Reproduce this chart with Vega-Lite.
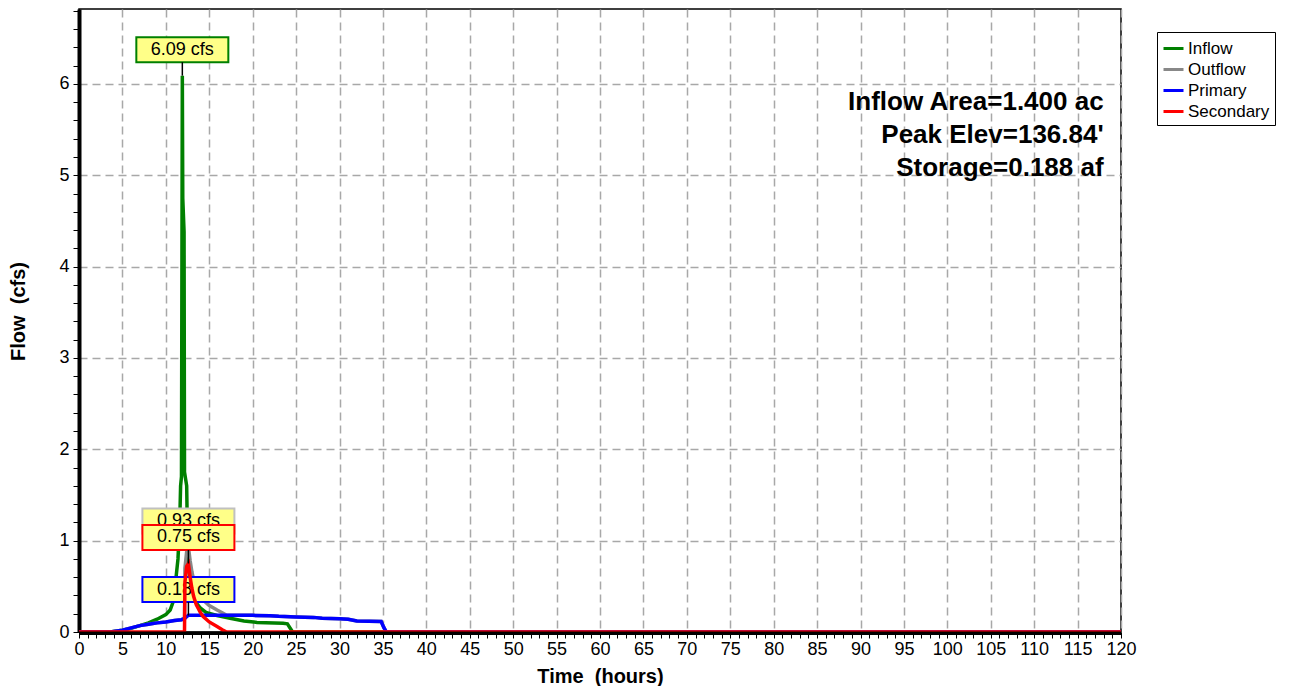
{
  "$schema": "https://vega.github.io/schema/vega-lite/v6.json",
  "width": 1042,
  "height": 623,
  "autosize": {"type": "none"},
  "padding": {"left": 79, "top": 9, "right": 170, "bottom": 54},
  "background": "white",
  "config": {
    "font": "Liberation Sans",
    "view": {"stroke": "black", "strokeWidth": 1.5},
    "legend": {
      "orient": "none", "legendX": 1078, "legendY": 23, "title": null,
      "strokeColor": "black", "fillColor": "white", "padding": 5,
      "symbolType": "stroke", "symbolStrokeWidth": 3, "symbolSize": 400,
      "labelFontSize": 17, "labelFont": "Liberation Sans", "labelColor": "black",
      "rowPadding": 1, "labelOffset": 3
    }
  },
  "datasets": {
    "flow": [
      {"series": "Inflow", "t": 0, "q": 0},
      {"series": "Inflow", "t": 3.6, "q": 0},
      {"series": "Inflow", "t": 5, "q": 0.02},
      {"series": "Inflow", "t": 6, "q": 0.04},
      {"series": "Inflow", "t": 7, "q": 0.07},
      {"series": "Inflow", "t": 8, "q": 0.1},
      {"series": "Inflow", "t": 9, "q": 0.14},
      {"series": "Inflow", "t": 10, "q": 0.19},
      {"series": "Inflow", "t": 10.5, "q": 0.24},
      {"series": "Inflow", "t": 10.8, "q": 0.32},
      {"series": "Inflow", "t": 11.0, "q": 0.45},
      {"series": "Inflow", "t": 11.2, "q": 0.62},
      {"series": "Inflow", "t": 11.4, "q": 0.8},
      {"series": "Inflow", "t": 11.6, "q": 1.2},
      {"series": "Inflow", "t": 11.7, "q": 1.6},
      {"series": "Inflow", "t": 11.8, "q": 1.7},
      {"series": "Inflow", "t": 11.9, "q": 6.09},
      {"series": "Inflow", "t": 11.95, "q": 4.75},
      {"series": "Inflow", "t": 12.1, "q": 4.38},
      {"series": "Inflow", "t": 12.15, "q": 1.75},
      {"series": "Inflow", "t": 12.4, "q": 1.6},
      {"series": "Inflow", "t": 12.5, "q": 1.0},
      {"series": "Inflow", "t": 12.6, "q": 0.71},
      {"series": "Inflow", "t": 12.8, "q": 0.55},
      {"series": "Inflow", "t": 13.0, "q": 0.45},
      {"series": "Inflow", "t": 13.5, "q": 0.32},
      {"series": "Inflow", "t": 14.0, "q": 0.26},
      {"series": "Inflow", "t": 14.7, "q": 0.21},
      {"series": "Inflow", "t": 15.9, "q": 0.18},
      {"series": "Inflow", "t": 17.4, "q": 0.15},
      {"series": "Inflow", "t": 19, "q": 0.12},
      {"series": "Inflow", "t": 20.5, "q": 0.105},
      {"series": "Inflow", "t": 23.5, "q": 0.095},
      {"series": "Inflow", "t": 24.0, "q": 0.09},
      {"series": "Inflow", "t": 24.6, "q": 0},
      {"series": "Inflow", "t": 120, "q": 0},
      {"series": "Outflow", "t": 0, "q": 0},
      {"series": "Outflow", "t": 3.6, "q": 0},
      {"series": "Outflow", "t": 5, "q": 0.02},
      {"series": "Outflow", "t": 6, "q": 0.045},
      {"series": "Outflow", "t": 7, "q": 0.07},
      {"series": "Outflow", "t": 8, "q": 0.085},
      {"series": "Outflow", "t": 9, "q": 0.1},
      {"series": "Outflow", "t": 10, "q": 0.11},
      {"series": "Outflow", "t": 11, "q": 0.125},
      {"series": "Outflow", "t": 11.8, "q": 0.135},
      {"series": "Outflow", "t": 12.15, "q": 0.148},
      {"series": "Outflow", "t": 12.2, "q": 0.7},
      {"series": "Outflow", "t": 12.4, "q": 0.88},
      {"series": "Outflow", "t": 12.6, "q": 0.93},
      {"series": "Outflow", "t": 12.8, "q": 0.78},
      {"series": "Outflow", "t": 13.0, "q": 0.66},
      {"series": "Outflow", "t": 13.2, "q": 0.57},
      {"series": "Outflow", "t": 13.5, "q": 0.48},
      {"series": "Outflow", "t": 14.0, "q": 0.39},
      {"series": "Outflow", "t": 14.3, "q": 0.35},
      {"series": "Outflow", "t": 15.0, "q": 0.29},
      {"series": "Outflow", "t": 15.9, "q": 0.24},
      {"series": "Outflow", "t": 16.5, "q": 0.21},
      {"series": "Outflow", "t": 17, "q": 0.184},
      {"series": "Outflow", "t": 20, "q": 0.182},
      {"series": "Outflow", "t": 22, "q": 0.178},
      {"series": "Outflow", "t": 23, "q": 0.172},
      {"series": "Outflow", "t": 25, "q": 0.165},
      {"series": "Outflow", "t": 27, "q": 0.16},
      {"series": "Outflow", "t": 28, "q": 0.15},
      {"series": "Outflow", "t": 30, "q": 0.145},
      {"series": "Outflow", "t": 31, "q": 0.14},
      {"series": "Outflow", "t": 32, "q": 0.12},
      {"series": "Outflow", "t": 34.8, "q": 0.115},
      {"series": "Outflow", "t": 35.1, "q": 0.05},
      {"series": "Outflow", "t": 35.4, "q": 0},
      {"series": "Outflow", "t": 120, "q": 0},
      {"series": "Primary", "t": 0, "q": 0},
      {"series": "Primary", "t": 3.6, "q": 0},
      {"series": "Primary", "t": 5, "q": 0.02},
      {"series": "Primary", "t": 6, "q": 0.045},
      {"series": "Primary", "t": 7, "q": 0.07},
      {"series": "Primary", "t": 8, "q": 0.085},
      {"series": "Primary", "t": 9, "q": 0.1},
      {"series": "Primary", "t": 10, "q": 0.11},
      {"series": "Primary", "t": 11, "q": 0.125},
      {"series": "Primary", "t": 11.8, "q": 0.135},
      {"series": "Primary", "t": 12.2, "q": 0.15},
      {"series": "Primary", "t": 12.5, "q": 0.175},
      {"series": "Primary", "t": 12.6, "q": 0.184},
      {"series": "Primary", "t": 17, "q": 0.184},
      {"series": "Primary", "t": 20, "q": 0.182},
      {"series": "Primary", "t": 22, "q": 0.178},
      {"series": "Primary", "t": 23, "q": 0.172},
      {"series": "Primary", "t": 25, "q": 0.165},
      {"series": "Primary", "t": 27, "q": 0.16},
      {"series": "Primary", "t": 28, "q": 0.15},
      {"series": "Primary", "t": 30, "q": 0.145},
      {"series": "Primary", "t": 31, "q": 0.14},
      {"series": "Primary", "t": 32, "q": 0.12},
      {"series": "Primary", "t": 34.8, "q": 0.115},
      {"series": "Primary", "t": 35.1, "q": 0.05},
      {"series": "Primary", "t": 35.4, "q": 0},
      {"series": "Primary", "t": 120, "q": 0},
      {"series": "Secondary", "t": 0, "q": 0},
      {"series": "Secondary", "t": 12.15, "q": 0},
      {"series": "Secondary", "t": 12.2, "q": 0.55},
      {"series": "Secondary", "t": 12.4, "q": 0.72},
      {"series": "Secondary", "t": 12.6, "q": 0.75},
      {"series": "Secondary", "t": 12.8, "q": 0.6},
      {"series": "Secondary", "t": 13.0, "q": 0.48},
      {"series": "Secondary", "t": 13.2, "q": 0.39},
      {"series": "Secondary", "t": 13.5, "q": 0.3},
      {"series": "Secondary", "t": 14.0, "q": 0.21},
      {"series": "Secondary", "t": 14.3, "q": 0.17},
      {"series": "Secondary", "t": 15.0, "q": 0.11},
      {"series": "Secondary", "t": 15.9, "q": 0.06},
      {"series": "Secondary", "t": 16.5, "q": 0.025},
      {"series": "Secondary", "t": 17.0, "q": 0},
      {"series": "Secondary", "t": 120, "q": 0}
    ],
    "peaks": [
      {"series": "Inflow", "t": 11.9, "q": 6.09, "label": "6.09 cfs"},
      {"series": "Outflow", "t": 12.6, "q": 0.93, "label": "0.93 cfs"},
      {"series": "Primary", "t": 12.6, "q": 0.18, "label": "0.18 cfs"},
      {"series": "Secondary", "t": 12.6, "q": 0.75, "label": "0.75 cfs"}
    ]
  },
  "layer": [
    {
      "encoding": {
        "x": {
          "field": "t", "type": "quantitative",
          "scale": {"domain": [0, 120], "nice": false, "zero": false},
          "axis": {
            "title": "Time\u00a0 (hours)",
            "values": [0,1,2,3,4,5,6,7,8,9,10,11,12,13,14,15,16,17,18,19,20,21,22,23,24,25,26,27,28,29,30,31,32,33,34,35,36,37,38,39,40,41,42,43,44,45,46,47,48,49,50,51,52,53,54,55,56,57,58,59,60,61,62,63,64,65,66,67,68,69,70,71,72,73,74,75,76,77,78,79,80,81,82,83,84,85,86,87,88,89,90,91,92,93,94,95,96,97,98,99,100,101,102,103,104,105,106,107,108,109,110,111,112,113,114,115,116,117,118,119,120],
            "labelExpr": "datum.value % 5 === 0 ? format(datum.value, 'd') : ''",
            "labelOverlap": false, "labelFlush": false, "labelBound": false,
            "labelFontSize": 18, "labelColor": "black", "labelPadding": 2,
            "grid": true,
            "gridOpacity": {"condition": {"test": "datum.value % 5 === 0 && datum.value > 0", "value": 1}, "value": 0},
            "gridColor": "#a8a8a8", "gridDash": [8, 5], "gridWidth": 1.5,
            "tickSize": 6, "tickColor": "black", "tickWidth": 1,
            "domain": false,
            "titleFontSize": 20, "titleFontWeight": "bold", "titleColor": "black",
            "titleY": 44, "titleBaseline": "middle"
          }
        },
        "y": {
          "field": "q", "type": "quantitative",
          "scale": {"domain": [0, 6.82], "nice": false, "zero": false},
          "axis": {
            "title": "Flow\u00a0 (cfs)",
            "values": [0,0.2,0.4,0.6,0.8,1,1.2,1.4,1.6,1.8,2,2.2,2.4,2.6,2.8,3,3.2,3.4,3.6,3.8,4,4.2,4.4,4.6,4.8,5,5.2,5.4,5.6,5.8,6,6.2,6.4,6.6,6.8],
            "labelExpr": "abs(datum.value - round(datum.value)) < 0.001 ? format(datum.value, 'd') : ''",
            "labelOverlap": false, "labelFlush": false, "labelBound": false,
            "labelFontSize": 18, "labelColor": "black", "labelPadding": 4,
            "grid": true,
            "gridOpacity": {"condition": {"test": "abs(datum.value - round(datum.value)) < 0.001 && datum.value > 0.5", "value": 1}, "value": 0},
            "gridColor": "#a8a8a8", "gridDash": [8, 5], "gridWidth": 1.5,
            "tickSize": 6, "tickColor": "black", "tickWidth": 1,
            "domain": true, "domainColor": "black", "domainWidth": 4,
            "titleFontSize": 20, "titleFontWeight": "bold", "titleColor": "black",
            "titleX": -61, "titleY": 302, "titleBaseline": "middle", "titleAlign": "center"
          }
        }
      },
      "layer": [
        {
          "data": {"name": "flow"},
          "transform": [{"filter": "datum.series === 'Inflow'"}],
          "mark": {"type": "line", "strokeWidth": 3.5},
          "encoding": {"color": {"field": "series", "type": "nominal", "scale": {"domain": ["Inflow", "Outflow", "Primary", "Secondary"], "range": ["#008000", "#888888", "#0000ff", "#ff0000"]}}}
        },
        {
          "data": {"name": "peaks"},
          "transform": [{"filter": "datum.series === 'Inflow'"}],
          "layer": [
            {"mark": {"type": "point", "shape": "M-1,-0.837L1,-0.837L1,-0.2935L-1,-0.2935Z", "size": 8464, "filled": true, "fill": "#ffff88", "stroke": "#008000", "strokeWidth": 2, "opacity": 1, "fillOpacity": 1, "strokeOpacity": 1}},
            {"mark": {"type": "point", "shape": "M0,-0.2935L0,0", "size": 8464, "filled": false, "stroke": "black", "strokeWidth": 1.5, "opacity": 1}},
            {"mark": {"type": "text", "dy": -26, "fontSize": 18, "baseline": "middle", "align": "center", "color": "black"}, "encoding": {"text": {"field": "label"}}}
          ]
        },
        {
          "data": {"name": "flow"},
          "transform": [{"filter": "datum.series === 'Outflow'"}],
          "mark": {"type": "line", "strokeWidth": 3.5},
          "encoding": {"color": {"field": "series", "type": "nominal"}}
        },
        {
          "data": {"name": "peaks"},
          "transform": [{"filter": "datum.series === 'Outflow'"}],
          "layer": [
            {"mark": {"type": "point", "shape": "M-1,-0.837L1,-0.837L1,-0.2935L-1,-0.2935Z", "size": 8464, "filled": true, "fill": "#ffff88", "stroke": "#c0c0c0", "strokeWidth": 2, "opacity": 1, "fillOpacity": 1, "strokeOpacity": 1}},
            {"mark": {"type": "point", "shape": "M0,-0.2935L0,0", "size": 8464, "filled": false, "stroke": "black", "strokeWidth": 1.5, "opacity": 1}},
            {"mark": {"type": "text", "dy": -26, "fontSize": 18, "baseline": "middle", "align": "center", "color": "black"}, "encoding": {"text": {"field": "label"}}}
          ]
        },
        {
          "data": {"name": "flow"},
          "transform": [{"filter": "datum.series === 'Primary'"}],
          "mark": {"type": "line", "strokeWidth": 3.5},
          "encoding": {"color": {"field": "series", "type": "nominal"}}
        },
        {
          "data": {"name": "peaks"},
          "transform": [{"filter": "datum.series === 'Primary'"}],
          "layer": [
            {"mark": {"type": "point", "shape": "M-1,-0.837L1,-0.837L1,-0.2935L-1,-0.2935Z", "size": 8464, "filled": true, "fill": "#ffff88", "stroke": "#0000ff", "strokeWidth": 2, "opacity": 1, "fillOpacity": 1, "strokeOpacity": 1}},
            {"mark": {"type": "point", "shape": "M0,-0.2935L0,0", "size": 8464, "filled": false, "stroke": "black", "strokeWidth": 1.5, "opacity": 1}},
            {"mark": {"type": "text", "dy": -26, "fontSize": 18, "baseline": "middle", "align": "center", "color": "black"}, "encoding": {"text": {"field": "label"}}}
          ]
        },
        {
          "data": {"name": "flow"},
          "transform": [{"filter": "datum.series === 'Secondary'"}],
          "mark": {"type": "line", "strokeWidth": 3.5},
          "encoding": {"color": {"field": "series", "type": "nominal"}}
        },
        {
          "data": {"name": "peaks"},
          "transform": [{"filter": "datum.series === 'Secondary'"}],
          "layer": [
            {"mark": {"type": "point", "shape": "M-1,-0.837L1,-0.837L1,-0.2935L-1,-0.2935Z", "size": 8464, "filled": true, "fill": "#ffff88", "stroke": "#ff0000", "strokeWidth": 2, "opacity": 1, "fillOpacity": 1, "strokeOpacity": 1}},
            {"mark": {"type": "point", "shape": "M0,-0.2935L0,0", "size": 8464, "filled": false, "stroke": "black", "strokeWidth": 1.5, "opacity": 1}},
            {"mark": {"type": "text", "dy": -26, "fontSize": 18, "baseline": "middle", "align": "center", "color": "black"}, "encoding": {"text": {"field": "label"}}}
          ]
        }
      ]
    },
    {
      "data": {"values": [{"a": 1}]},
      "encoding": {
        "x": {
          "datum": 0, "type": "quantitative",
          "scale": {"domain": [0, 120], "nice": false, "zero": false},
          "axis": {
            "title": "Time\u00a0 (hours)",
            "values": [0,1,2,3,4,5,6,7,8,9,10,11,12,13,14,15,16,17,18,19,20,21,22,23,24,25,26,27,28,29,30,31,32,33,34,35,36,37,38,39,40,41,42,43,44,45,46,47,48,49,50,51,52,53,54,55,56,57,58,59,60,61,62,63,64,65,66,67,68,69,70,71,72,73,74,75,76,77,78,79,80,81,82,83,84,85,86,87,88,89,90,91,92,93,94,95,96,97,98,99,100,101,102,103,104,105,106,107,108,109,110,111,112,113,114,115,116,117,118,119,120],
            "labelExpr": "datum.value % 5 === 0 ? format(datum.value, 'd') : ''",
            "labelOverlap": false, "labelFlush": false, "labelBound": false,
            "labelFontSize": 18, "labelColor": "black", "labelPadding": 2,
            "grid": true,
            "gridOpacity": {"condition": {"test": "datum.value % 5 === 0 && datum.value > 0", "value": 1}, "value": 0},
            "gridColor": "#a8a8a8", "gridDash": [8, 5], "gridWidth": 1.5,
            "tickSize": 6, "tickColor": "black", "tickWidth": 1,
            "domain": false,
            "titleFontSize": 20, "titleFontWeight": "bold", "titleColor": "black",
            "titleY": 44, "titleBaseline": "middle"
          }
        },
        "y": {
          "datum": 0, "type": "quantitative",
          "scale": {"domain": [0, 6.82], "nice": false, "zero": false},
          "axis": {
            "title": "Flow\u00a0 (cfs)",
            "values": [0,0.2,0.4,0.6,0.8,1,1.2,1.4,1.6,1.8,2,2.2,2.4,2.6,2.8,3,3.2,3.4,3.6,3.8,4,4.2,4.4,4.6,4.8,5,5.2,5.4,5.6,5.8,6,6.2,6.4,6.6,6.8],
            "labelExpr": "abs(datum.value - round(datum.value)) < 0.001 ? format(datum.value, 'd') : ''",
            "labelOverlap": false, "labelFlush": false, "labelBound": false,
            "labelFontSize": 18, "labelColor": "black", "labelPadding": 4,
            "grid": true,
            "gridOpacity": {"condition": {"test": "abs(datum.value - round(datum.value)) < 0.001 && datum.value > 0.5", "value": 1}, "value": 0},
            "gridColor": "#a8a8a8", "gridDash": [8, 5], "gridWidth": 1.5,
            "tickSize": 6, "tickColor": "black", "tickWidth": 1,
            "domain": true, "domainColor": "black", "domainWidth": 4,
            "titleFontSize": 20, "titleFontWeight": "bold", "titleColor": "black",
            "titleX": -61, "titleY": 302, "titleBaseline": "middle", "titleAlign": "center"
          }
        }
      },
      "layer": [
        {
          "mark": {"type": "rule", "color": "black", "strokeWidth": 3.5, "yOffset": 1.2},
          "encoding": {"x2": {"datum": 120}}
        },
        {
          "mark": {"type": "text", "text": "Inflow Area=1.400 ac\nPeak Elev=136.84'\nStorage=0.188 af", "lineBreak": "\n", "lineHeight": 33, "fontSize": 26, "fontWeight": "bold", "align": "right", "baseline": "middle", "color": "black"},
          "encoding": {"x": {"datum": 118}, "y": {"datum": 5.805}}
        }
      ]
    }
  ]
}
